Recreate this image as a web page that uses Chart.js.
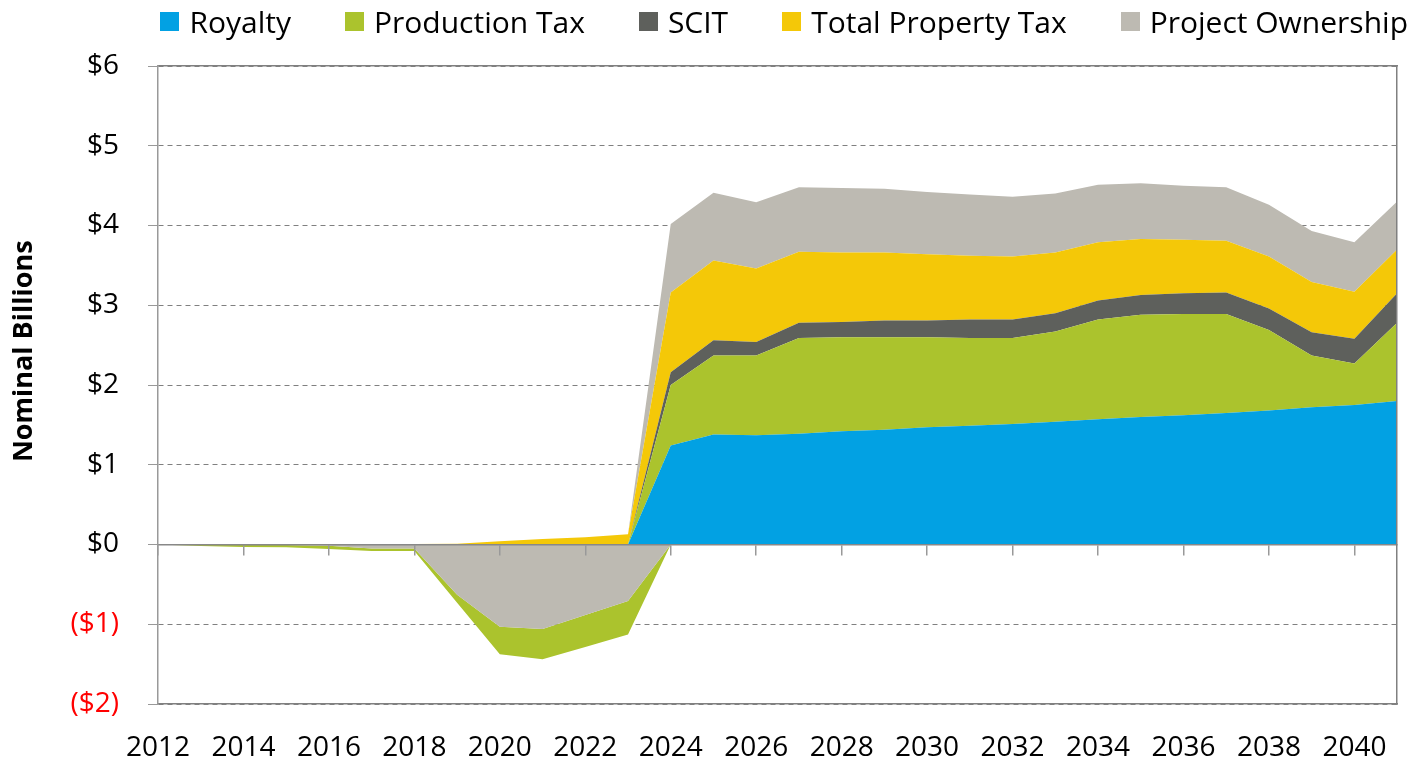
<!DOCTYPE html>
<html>
<head>
<meta charset="utf-8">
<script src="https://cdn.jsdelivr.net/npm/chart.js@4.4.1/dist/chart.umd.min.js"></script>
<style>
  body { margin: 0; background: #fff; }
  #wrap { position: relative; width: 1414px; height: 764px; }
  #legend { position: absolute; top: 0; right: 6px; display: flex; font-family: "Open Sans"; font-size: 30px; line-height: 43px; color: #000; }
  #legend .item { display: flex; align-items: center; margin-left: 54px; white-space: nowrap; }
  #legend .box { width: 19px; height: 19px; margin-right: 10px; }
</style>
</head>
<body>
<div id="wrap">
  <canvas id="myChart" width="1414" height="764"></canvas>
  <div id="legend"></div>
</div>
<script>
var years = [2012, 2013, 2014, 2015, 2016, 2017, 2018, 2019, 2020, 2021,
             2022, 2023, 2024, 2025, 2026, 2027, 2028, 2029, 2030, 2031,
             2032, 2033, 2034, 2035, 2036, 2037, 2038, 2039, 2040, 2041];

// $ billions
var royalty = [0, 0, 0, 0, 0, 0, 0, 0, 0, 0,
               0, 0, 1.24, 1.38, 1.37, 1.39, 1.42, 1.44, 1.47, 1.49,
               1.51, 1.54, 1.57, 1.60, 1.62, 1.65, 1.68, 1.72, 1.75, 1.80];
var productionTax = [0, -0.02, -0.03, -0.03, -0.04, -0.03, -0.03, -0.10, -0.345, -0.38,
                     -0.40, -0.42, 0.76, 0.99, 1.00, 1.20, 1.18, 1.16, 1.13, 1.10,
                     1.08, 1.13, 1.25, 1.28, 1.27, 1.24, 1.01, 0.65, 0.52, 0.98];
var scit = [0, 0, 0, 0, 0, 0, 0, 0, 0, 0,
            0, 0, 0.16, 0.19, 0.17, 0.19, 0.19, 0.21, 0.21, 0.23,
            0.23, 0.23, 0.24, 0.25, 0.26, 0.27, 0.27, 0.29, 0.31, 0.37];
var propertyTax = [0, 0, 0, 0, 0, 0, 0.005, 0.01, 0.04, 0.07,
                   0.09, 0.13, 1.00, 1.00, 0.92, 0.89, 0.87, 0.85, 0.83, 0.80,
                   0.79, 0.76, 0.73, 0.70, 0.67, 0.65, 0.65, 0.63, 0.59, 0.55];
var ownership = [0, 0, 0, -0.005, -0.015, -0.05, -0.05, -0.63, -1.03, -1.06,
                 -0.885, -0.71, 0.86, 0.85, 0.83, 0.81, 0.81, 0.80, 0.78, 0.77,
                 0.75, 0.74, 0.72, 0.70, 0.68, 0.67, 0.65, 0.64, 0.62, 0.60];

var seriesNames = ["Royalty", "Production Tax", "SCIT", "Total Property Tax", "Project Ownership"];
var seriesColors = ["#02A1E3", "#ABC32D", "#5E605C", "#F4C808", "#BDBAB2"];
var xTicks = [2012, 2014, 2016, 2018, 2020, 2022, 2024, 2026, 2028, 2030, 2032, 2034, 2036, 2038, 2040];
var yTicks = [-2, -1, 0, 1, 2, 3, 4, 5, 6];

var series = [royalty, productionTax, scit, propertyTax, ownership];
var datasets = [];

function band(k, vals, fill) {
  return {
    label: seriesNames[k],
    data: vals.map(function (v, i) { return { x: years[i], y: v }; }),
    backgroundColor: seriesColors[k],
    borderColor: "transparent",
    borderWidth: 0,
    pointRadius: 0,
    pointHitRadius: 0,
    tension: 0,
    fill: fill,
  };
}

// positive parts stacked upward in series order
var posBase = years.map(function () { return 0; });
series.forEach(function (vals, k) {
  var top = vals.map(function (v, i) { return posBase[i] + Math.max(v, 0); });
  datasets.push(band(k, top, k === 0 ? "origin" : "-1"));
  posBase = top;
});
// negative parts stacked downward, last series nearest zero
var negBase = years.map(function () { return 0; });
for (var k = series.length - 1; k >= 0; k--) {
  var bottom = series[k].map(function (v, i) { return negBase[i] + Math.min(v, 0); });
  var ds = band(k, bottom, k === series.length - 1 ? "origin" : "-1");
  ds.hideInLegend = true;
  datasets.push(ds);
  negBase = bottom;
}

var font = "Open Sans";
function setTicks(list) {
  return function (scale) {
    scale.ticks = list.map(function (v) { return { value: v }; });
  };
}

var htmlLegend = {
  id: "htmlLegend",
  afterUpdate: function (chart) {
    var box = document.getElementById("legend");
    box.innerHTML = "";
    chart.data.datasets.forEach(function (ds) {
      if (ds.hideInLegend) return;
      var item = document.createElement("div");
      item.className = "item";
      var sw = document.createElement("span");
      sw.className = "box";
      sw.style.background = ds.backgroundColor;
      var txt = document.createElement("span");
      txt.textContent = ds.label;
      item.appendChild(sw);
      item.appendChild(txt);
      box.appendChild(item);
    });
  },
};

var ctx = document.getElementById("myChart").getContext("2d");
var myChart = new Chart(ctx, {
  type: "line",
  data: { datasets: datasets },
  options: {
    responsive: false,
    animation: false,
    layout: { padding: 0 },
    plugins: {
      legend: { display: false },
      tooltip: { enabled: false },
    },
    scales: {
      x: {
        type: "linear",
        min: 2012,
        max: 2041,
        afterBuildTicks: setTicks(xTicks),
        ticks: {
          callback: function (v) { return String(v); },
          font: { family: font, size: 28 },
          color: "#000",
          padding: 27,
          maxRotation: 0,
          autoSkip: false,
        },
        grid: { display: false, drawTicks: false },
        border: { display: true, color: "#808080", width: 1.5, z: 1 },
        afterFit: function (s) { s.height = 60; },
      },
      x2: {
        axis: "x",
        type: "linear",
        position: { y: 0 },
        min: 2012,
        max: 2041,
        afterBuildTicks: setTicks(xTicks),
        ticks: { display: false },
        grid: { drawOnChartArea: false, drawTicks: true, tickLength: 10, color: "#999", lineWidth: 1.5, z: 1 },
        border: { display: true, color: "#888", width: 1.5, z: 1 },
      },
      xTop: {
        axis: "x",
        type: "linear",
        position: "top",
        min: 2012,
        max: 2041,
        ticks: { display: false },
        grid: { display: false, drawTicks: false },
        border: { display: true, color: "#808080", width: 1.5, z: 1 },
        afterFit: function (s) { s.height = 66; },
      },
      y: {
        min: -2,
        max: 6,
        afterBuildTicks: setTicks(yTicks),
        ticks: {
          callback: function (v) { return v < 0 ? "($" + (-v) + ")" : "$" + v; },
          color: function (c) { return c.tick && c.tick.value < 0 ? "#FF0000" : "#000"; },
          font: { family: font, size: 28 },
          padding: 29,
        },
        grid: { color: "#808080", lineWidth: 1, tickLength: 10, tickColor: "#999" },
        border: { display: true, color: "#999", width: 1.5, dash: [5, 4], z: 1 },
        title: {
          display: true,
          // leading spaces lift the rotated title above the plot's middle, as in the original
          text: "\u2003\u2003\u2002Nominal Billions",
          font: { family: font, size: 27, weight: "bold" },
          color: "#000",
          padding: { top: 8, bottom: 0 },
        },
        afterFit: function (s) { s.width = 158; },
      },
      yRight: {
        axis: "y",
        position: "right",
        min: -2,
        max: 6,
        ticks: { display: false },
        grid: { display: false, drawTicks: false },
        border: { display: true, color: "#808080", width: 1.5, z: 1 },
        afterFit: function (s) { s.width = 7; },
      },
    },
  },
  plugins: [htmlLegend],
});
</script>
</body>
</html>
